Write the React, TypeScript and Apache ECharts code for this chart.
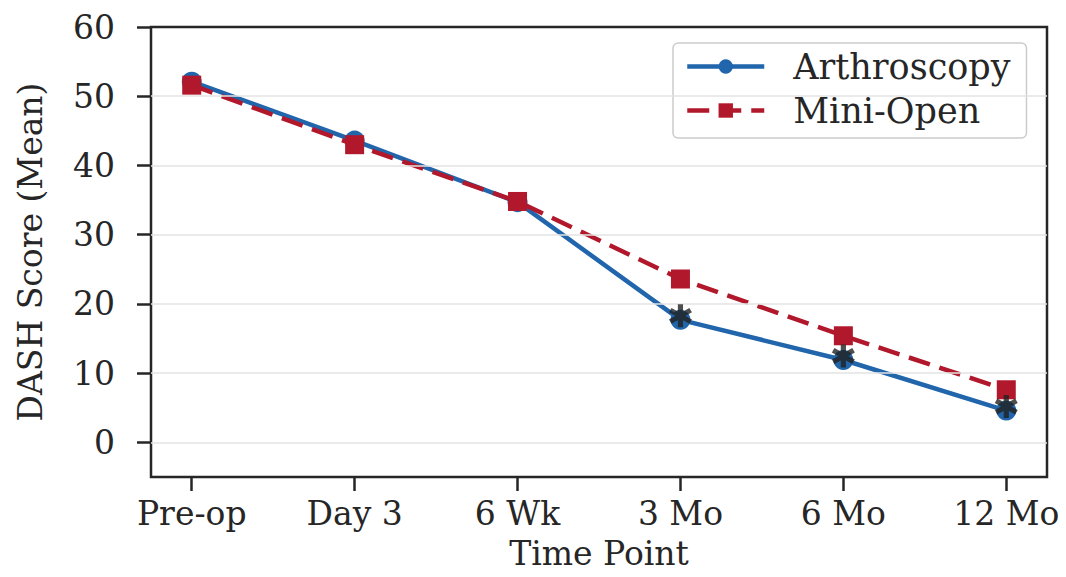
import React, { useEffect, useRef } from "react";
import * as echarts from "echarts";

const categories = ["Pre-op", "Day 3", "6 Wk", "3 Mo", "6 Mo", "12 Mo"];
const arthroscopy = [52.1, 43.6, 34.7, 17.7, 11.9, 4.6];
const miniOpen = [51.6, 43.0, 34.8, 23.6, 15.4, 7.6];
const sigIndex = [3, 4, 5];
const yTicks = [0, 10, 20, 30, 40, 50, 60];
const gridLines = [0, 10, 20, 30, 40, 50];
const xTicks = [0, 1, 2, 3, 4, 5];

const FONT = "DejaVu Serif";
const BLUE = "#2166ac";
const RED = "#b2182b";
const INK = "#262626";

const star =
  "path://M7.8,0L12.2,0L12.2,20L7.8,20Z" +
  "M17.56,3.095L19.76,6.905L2.44,16.905L0.24,13.095Z" +
  "M0.24,6.905L2.44,3.095L19.76,13.095L17.56,16.905Z";

export default function App() {
  const ref = useRef<HTMLDivElement>(null);
  useEffect(() => {
    if (!ref.current) return;
    const chart = echarts.init(ref.current, null, { renderer: "svg" });
    chart.setOption({
      animation: false,
      backgroundColor: "#ffffff",
      grid: {
        left: 151,
        top: 27,
        right: 19,
        bottom: 100,
        containLabel: false,
        outerBoundsMode: "none",
        show: true,
        borderColor: INK,
        borderWidth: 2.5,
        backgroundColor: "transparent",
      },
      legend: {
        orient: "vertical",
        left: 673,
        top: 43,
        padding: [6, 16, 10, 12],
        itemWidth: 77,
        itemHeight: 18,
        itemGap: 9,
        backgroundColor: "rgba(255,255,255,0.85)",
        borderColor: "#cccccc",
        borderWidth: 1.5,
        borderRadius: 5,
        lineStyle: { width: 4.5 },
        textStyle: {
          fontFamily: FONT,
          fontSize: 35,
          color: INK,
          lineHeight: 34,
          padding: [0, 0, 0, 24],
        },
        data: ["Arthroscopy", "Mini-Open"],
      },
      xAxis: {
        type: "value",
        min: -0.25,
        max: 5.25,
        name: "Time Point",
        nameLocation: "middle",
        nameGap: 60,
        nameTextStyle: {
          fontFamily: FONT,
          fontSize: 33,
          color: INK,
        },
        axisLine: { show: false, onZero: false },
        axisTick: {
          show: true,
          length: 14,
          lineStyle: { color: INK, width: 2.5 },
          customValues: xTicks,
        },
        axisLabel: {
          fontFamily: FONT,
          fontSize: 33,
          color: INK,
          margin: 20,
          customValues: xTicks,
          formatter: (v: number) => categories[Math.round(v)] ?? "",
        },
        splitLine: { show: false },
      },
      yAxis: {
        type: "value",
        min: -5,
        max: 60,
        name: "DASH Score (Mean)",
        nameLocation: "middle",
        nameGap: 104,
        nameRotate: 90,
        nameTextStyle: { fontFamily: FONT, fontSize: 33, color: INK },
        axisLine: { show: false, onZero: false },
        axisTick: {
          show: true,
          length: 14,
          lineStyle: { color: INK, width: 2.5 },
          customValues: yTicks,
        },
        axisLabel: {
          fontFamily: FONT,
          fontSize: 33,
          color: INK,
          margin: 36,
          customValues: yTicks,
        },
        splitLine: { show: false },
      },
      series: [
        {
          name: "grid",
          type: "line",
          data: [],
          silent: true,
          markLine: {
            silent: true,
            symbol: "none",
            label: { show: false },
            lineStyle: { color: "#e3e3e3", width: 1.5, type: "solid" },
            data: gridLines.map((t) => ({ yAxis: t })),
          },
        },
        {
          name: "Arthroscopy",
          type: "line",
          data: arthroscopy.map((v, i) => [i, v]),
          symbol: "circle",
          symbolSize: 20,
          itemStyle: { color: BLUE },
          lineStyle: { color: BLUE, width: 4.5 },
          z: 3,
        },
        {
          name: "Mini-Open",
          type: "line",
          data: miniOpen.map((v, i) => [i, v]),
          symbol: "rect",
          symbolSize: 19,
          itemStyle: { color: RED },
          lineStyle: { color: RED, width: 4.5, type: [22, 10] },
          z: 4,
        },
        {
          name: "sig",
          type: "scatter",
          data: sigIndex.map((i) => [i, arthroscopy[i]]),
          symbol: star,
          symbolSize: 23,
          symbolOffset: [0, -4],
          itemStyle: { color: "#222222" },
          z: 5,
        },
      ],
    });
    return () => chart.dispose();
  }, []);
  return (
    <div
      ref={ref}
      style={{ position: "fixed", left: 0, top: 0, width: 1066, height: 577 }}
    />
  );
}
